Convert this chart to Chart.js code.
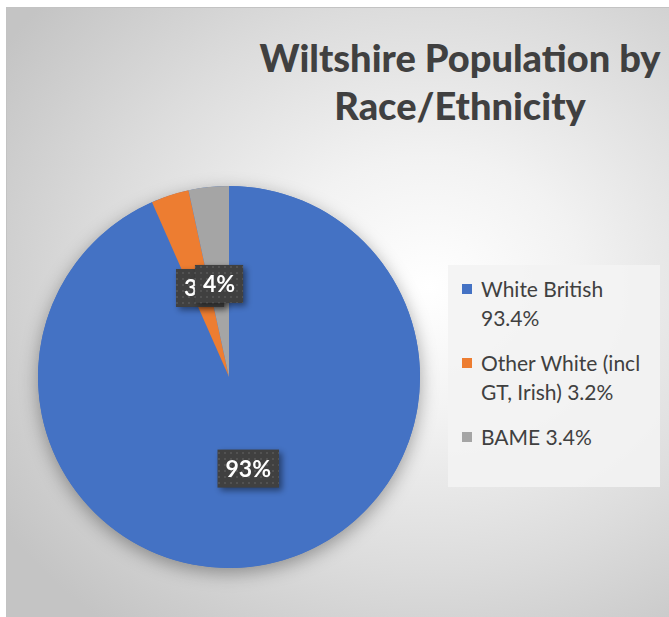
<!DOCTYPE html>
<html>
<head>
<meta charset="utf-8">
<script src="https://cdn.jsdelivr.net/npm/chart.js@4.4.1/dist/chart.umd.min.js"></script>
<style>
  html, body { margin: 0; padding: 0; background: #fff; }
  #wrap { position: relative; width: 669px; height: 617px; overflow: hidden; }
  #frame {
    position: absolute; left: 6px; top: 7px; width: 680px; height: 620px;
    border: 1px solid #c3c3c3;
    background: radial-gradient(ellipse 75% 70% at 62% 45%, #ffffff 0%, #f2f2f2 30%, #dcdcdc 65%, #c4c4c4 100%);
  }
  #title {
    position: absolute; left: 240px; width: 440px; top: 33px;
    font-family: Lato, "Open Sans", sans-serif; font-weight: 900; font-size: 38px;
    line-height: 48px; color: #404040; text-align: center;
  }
  #legend {
    position: absolute; left: 448px; top: 265px; width: 212px; height: 222px;
    background: rgba(243,243,243,0.9);
    font-family: Lato, "Open Sans", sans-serif; font-size: 21px; color: #404040;
  }
  .item { position: absolute; left: 33px; white-space: pre-line; line-height: 29px; }
  .sw { position: absolute; left: -19px; top: 10px; width: 10px; height: 10px; }
  canvas { position: absolute; left: 0; top: 0; }
</style>
</head>
<body>
<div id="wrap">
  <div id="frame"></div>
  <div id="title">Wiltshire Population by<br>Race/Ethnicity</div>
  <div id="legend"></div>
  <canvas id="pie" width="669" height="617"></canvas>
</div>
<script>
// data
const categories = ['White British\n93.4%', 'Other White (incl\nGT, Irish) 3.2%', 'BAME 3.4%'];
const values = [93.4, 3.2, 3.4];
const sliceLabels = ['93%', '3%', '4%'];
const colors = ['#4472C4', '#ED7D31', '#A5A5A5'];

// legend built from the categories
const legendTops = [0, 74, 148];
const legendEl = document.getElementById('legend');
categories.forEach((c, i) => {
  const d = document.createElement('div');
  d.className = 'item';
  d.style.top = (9 + legendTops[i]) + 'px';
  d.textContent = c;
  const sw = document.createElement('span');
  sw.className = 'sw';
  sw.style.background = colors[i];
  d.appendChild(sw);
  legendEl.appendChild(d);
});

// dotted fill used on the label boxes
function dotPattern(ctx) {
  const c = document.createElement('canvas');
  c.width = 6; c.height = 6;
  const g = c.getContext('2d');
  g.fillStyle = '#404040';
  g.fillRect(0, 0, 6, 6);
  g.fillStyle = '#525252';
  g.fillRect(2, 2, 2, 2);
  return ctx.createPattern(c, 'repeat');
}

const pieShadow = {
  id: 'pieShadow',
  beforeDatasetsDraw(chart) {
    const arc = chart.getDatasetMeta(0).data[0];
    if (!arc) return;
    const ctx = chart.ctx;
    ctx.save();
    ctx.shadowColor = 'rgba(0,0,0,0.35)';
    ctx.shadowBlur = 18;
    ctx.shadowOffsetY = 5;
    ctx.fillStyle = colors[0];
    ctx.beginPath();
    ctx.arc(arc.x, arc.y, arc.outerRadius, 0, Math.PI * 2);
    ctx.fill();
    ctx.restore();
  }
};

const boxLabels = {
  id: 'boxLabels',
  afterDatasetsDraw(chart) {
    const ctx = chart.ctx;
    const pat = dotPattern(ctx);
    chart.getDatasetMeta(0).data.forEach((arc, i) => {
      const mid = (arc.startAngle + arc.endAngle) / 2;
      const r = arc.outerRadius * 0.49;
      const x = arc.x + Math.cos(mid) * r;
      const y = arc.y + Math.sin(mid) * r;
      ctx.save();
      ctx.font = 'bold 23px Lato, "Open Sans", sans-serif';
      const w = ctx.measureText(sliceLabels[i]).width + 16;
      const h = 38;
      ctx.shadowColor = 'rgba(0,0,0,0.45)';
      ctx.shadowBlur = 6;
      ctx.shadowOffsetX = 3;
      ctx.shadowOffsetY = 3;
      ctx.fillStyle = pat;
      ctx.fillRect(x - w / 2, y - h / 2, w, h);
      ctx.restore();
      ctx.save();
      ctx.font = 'bold 23px Lato, "Open Sans", sans-serif';
      ctx.fillStyle = '#ffffff';
      ctx.textAlign = 'center';
      ctx.textBaseline = 'middle';
      ctx.fillText(sliceLabels[i], x, y + 1);
      ctx.restore();
    });
  }
};

new Chart(document.getElementById('pie'), {
  type: 'pie',
  data: {
    labels: categories,
    datasets: [{
      data: values,
      backgroundColor: colors,
      borderWidth: 0
    }]
  },
  options: {
    responsive: false,
    animation: false,
    layout: { padding: { left: 38, right: 249, top: 186, bottom: 49 } },
    plugins: {
      legend: { display: false },
      title: { display: false },
      tooltip: { enabled: false }
    }
  },
  plugins: [pieShadow, boxLabels]
});
</script>
</body>
</html>
